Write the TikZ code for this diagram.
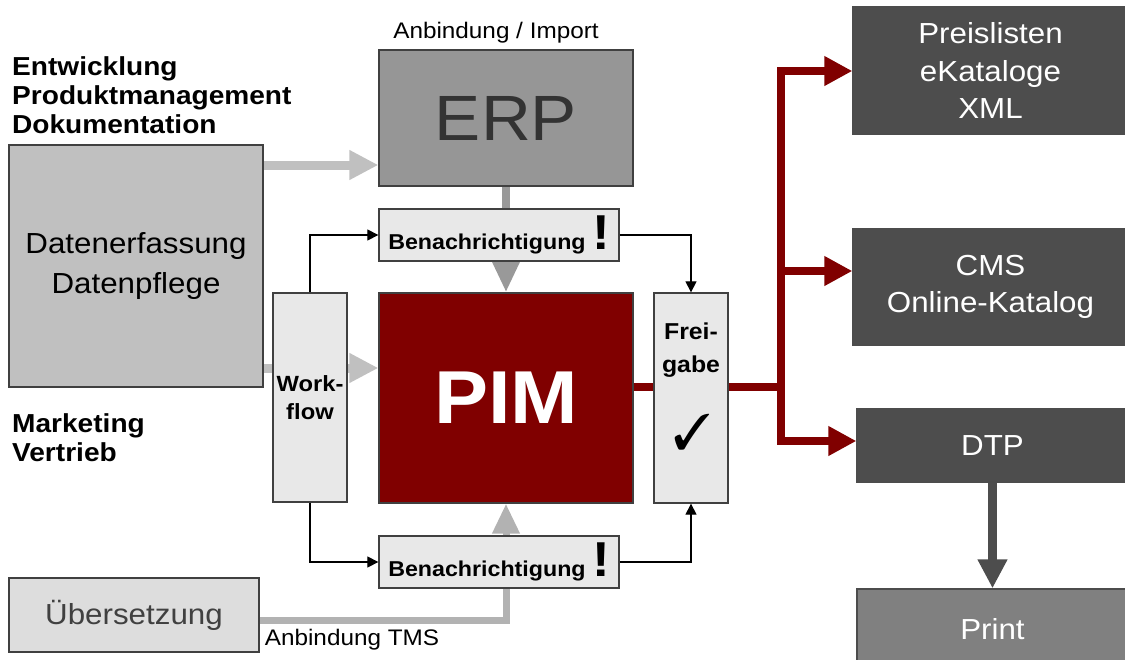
\documentclass[tikz,border=0pt]{standalone}
\usepackage{fontspec}
\setmainfont{Liberation Sans}[FakeStretch=1.08]
\usepackage{pifont}
\usetikzlibrary{arrows.meta,backgrounds}
\definecolor{pimred}{HTML}{800000}
\definecolor{boxlight}{HTML}{E8E8E8}
\definecolor{datgray}{HTML}{C0C0C0}
\definecolor{erpgray}{HTML}{969696}
\definecolor{darkbox}{HTML}{4D4D4D}
\definecolor{printgray}{HTML}{808080}
\definecolor{uebgray}{HTML}{DDDDDD}
\definecolor{arrowgray}{HTML}{C0C0C0}
\definecolor{erparrow}{HTML}{999999}
\definecolor{tmsgray}{HTML}{B2B2B2}
\definecolor{txtgray}{HTML}{333333}
\newcommand\myfs[2]{\fontsize{#1}{#2}\selectfont}
\begin{document}
\begin{tikzpicture}[x=1pt,y=-1pt,
 box/.style={rectangle, inner sep=0pt, line width=1.3pt, draw=black!75},
 lightbox/.style={box, fill=boxlight},
 outbox/.style={box, draw=black!70, fill=darkbox, text=white, font=\myfs{29}{37.5}, align=center},
 thinarrow/.style={draw=black, line width=1.2pt, -{Triangle[length=11pt,width=11pt]}},
 grayarrow/.style={line width=9pt, draw=arrowgray, -{Triangle[length=29pt,width=28pt]}},
 redarrow/.style={line width=8pt, draw=pimred, -{Triangle[length=28pt,width=28pt]}},
 lbl/.style={inner sep=0pt, align=left, font=\bfseries\myfs{26}{29}},
 plain/.style={inner sep=0pt}
]
\useasboundingbox (0,0) rectangle (1125,659);
\clip (0,0) rectangle (1125,659);

% boxes
\node[box, fill=datgray, minimum width=254pt, minimum height=242pt, font=\myfs{29}{40}, align=center] (dat) at (136,266) {Datenerfassung\\Datenpflege};
\node[box, fill=erpgray, minimum width=254pt, minimum height=136pt, text=txtgray, font=\myfs{64}{64}] (erp) at (506,118) {ERP};
\node[lightbox, minimum width=74pt, minimum height=209pt, font=\bfseries\myfs{22}{28}, align=center] (wf) at (310,397.5) {Work-\\flow};
\node[box, fill=pimred, minimum width=254pt, minimum height=210pt, text=white, font=\bfseries\myfs{75}{75}] (pim) at (506,398) {PIM};
\node[lightbox, minimum width=240pt, minimum height=52pt, font=\bfseries\myfs{21.5}{21.5}] (ben1) at (499,235) {Benachrichtigung~{\myfs{49}{49}!}};
\node[lightbox, minimum width=240pt, minimum height=52pt, font=\bfseries\myfs{21.5}{21.5}] (ben2) at (499,562) {Benachrichtigung~{\myfs{49}{49}!}};
\node[lightbox, minimum width=74pt, minimum height=210pt] (frei) at (691,398) {};
\node[plain, font=\bfseries\myfs{23}{33}, align=center] (freit) at (691,350) {Frei-\\gabe};
\node[plain, font=\myfs{50}{50}] (chk) at (692,432) {\ding{51}};

\node[outbox, minimum width=275pt, minimum height=127pt] (pl) at (990.5,70.5) {Preislisten\\eKataloge\\XML};
\node[outbox, minimum width=275pt, minimum height=116pt] (cms) at (990.5,287) {CMS\\Online-Katalog};
\node[outbox, minimum width=271pt, minimum height=73pt] (dtp) at (992.5,445.5) {DTP};
\node[outbox, fill=printgray, minimum width=271pt, minimum height=80pt] (prt) at (992.5,629) {Print};

\node[box, fill=uebgray, minimum width=250pt, minimum height=74pt, text=black!75, font=\myfs{29}{29}] (ueb) at (134,615) {Übersetzung};

% labels
\node[plain, font=\myfs{22.5}{22.5}] (anb) at (496,33) {Anbindung / Import};
\node[lbl, anchor=north west] (grp1) at (12,56) {Entwicklung\\Produktmanagement\\Dokumentation};
\node[lbl, anchor=north west] (grp2) at (12,413) {Marketing\\Vertrieb};
\node[plain, font=\myfs{22.5}{22.5}] (tms) at (352,640) {Anbindung TMS};

% background connectors
\begin{scope}[on background layer]
\draw[grayarrow] (dat.east |- 0,165) -- (erp.west |- 0,165);
\draw[grayarrow] (dat.east |- 0,368) -- (pim.west |- 0,368);
\draw[line width=8pt, draw=erparrow, -{Triangle[length=31pt,width=26pt]}] (erp.south) -- (pim.north);
\draw[line width=7pt, draw=tmsgray, -{Triangle[length=30pt,width=26pt]}] ([yshift=-5pt]ueb.east) -| (pim.south);
\end{scope}

% red outputs
\coordinate (br) at (781,387);
\draw[line width=8pt, draw=pimred] (pim.east |- br) -- (frei.west |- br);
\draw[redarrow] (frei.east |- br) -- (br) |- (pl.west |- 0,71);
\draw[redarrow] (br) |- (cms.west |- 0,271);
\draw[redarrow] (br) |- (dtp.west |- 0,441);

% workflow arrows
\draw[thinarrow] (wf.north) |- (ben1.west);
\draw[thinarrow] (ben1.east) -| (frei.north);
\draw[thinarrow] (wf.south) |- (ben2.west);
\draw[thinarrow] (ben2.east) -| (frei.south);

% DTP -> Print
\draw[line width=9pt, draw=darkbox, -{Triangle[length=29pt,width=28pt]}] (dtp.south) -- (prt.north);
\end{tikzpicture}
\end{document}
